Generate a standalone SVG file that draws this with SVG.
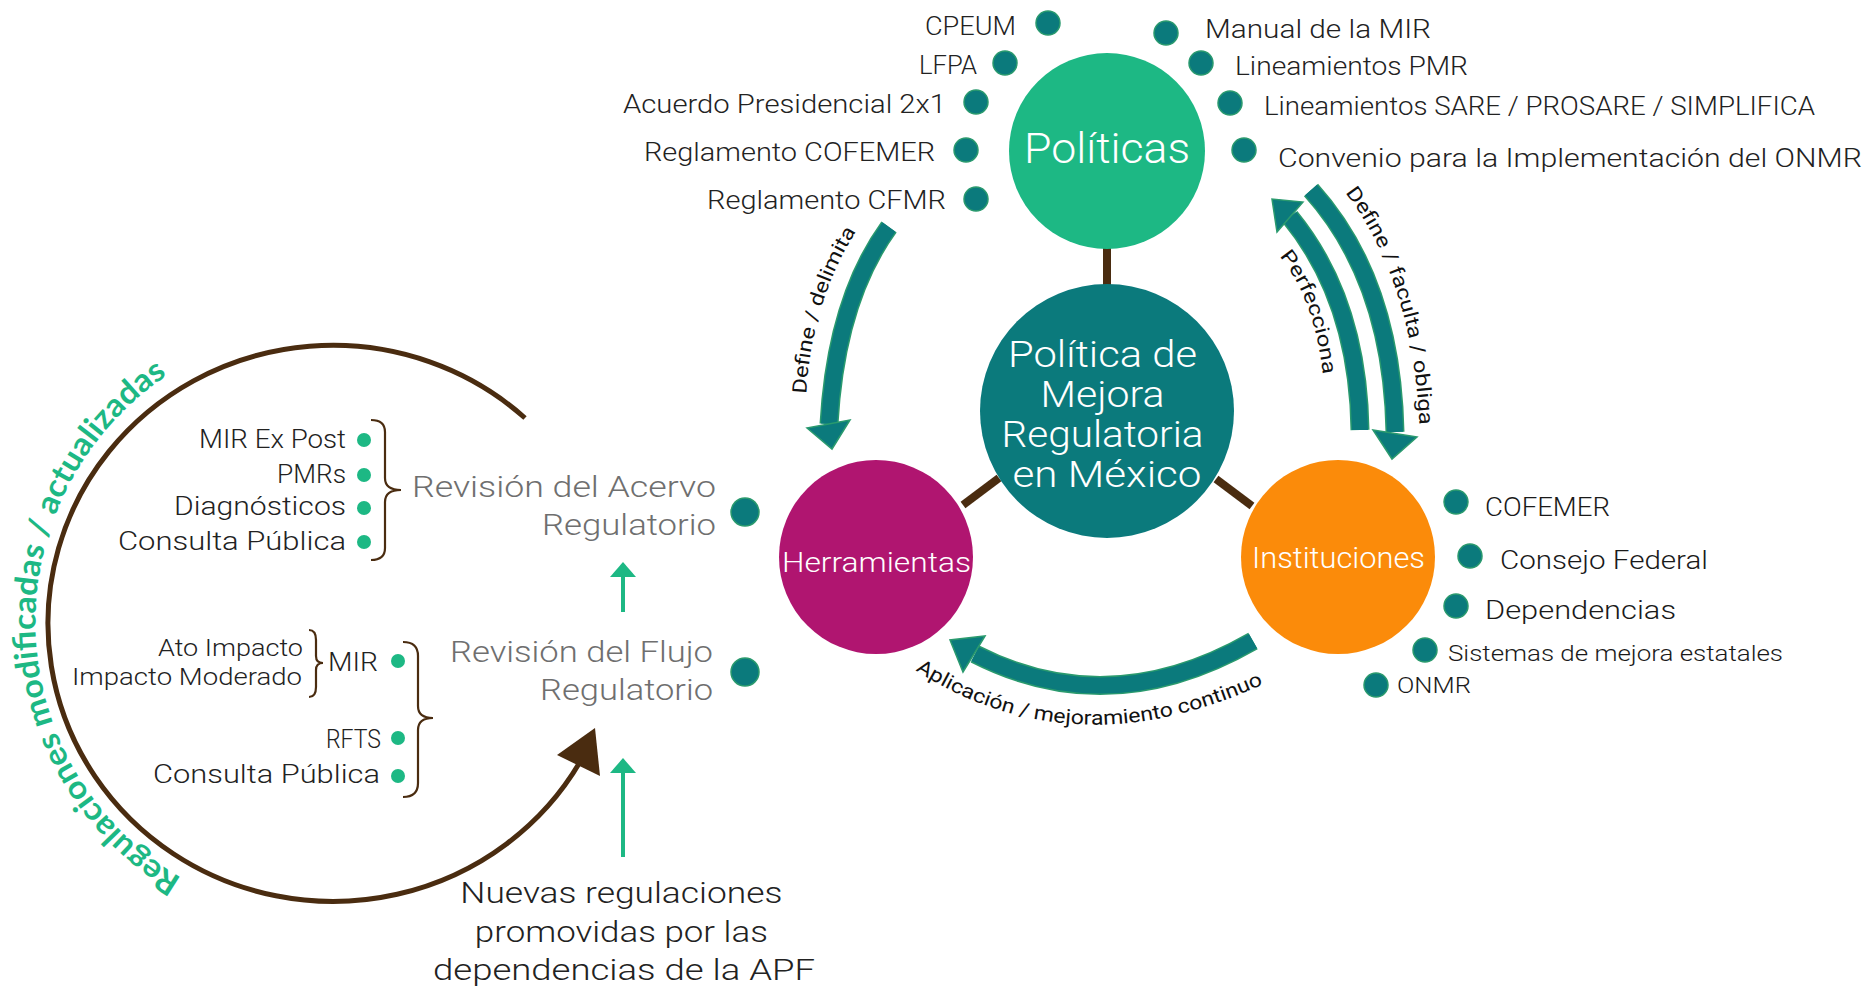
<svg xmlns="http://www.w3.org/2000/svg" width="1864" height="987" viewBox="0 0 1864 987">
<style>
.t{font-family:"Roboto","Liberation Sans",sans-serif;font-weight:300;fill:#1a1a1a;}
.c{font-family:"Roboto","Liberation Sans",sans-serif;font-weight:300;fill:#222;}
.g{font-family:"Roboto","Liberation Sans",sans-serif;font-weight:300;fill:#6f6f6f;}
.w{font-family:"Roboto","Liberation Sans",sans-serif;fill:#fff;font-weight:300;}
.lab{font-family:"Roboto","Liberation Sans",sans-serif;fill:#111;font-size:20px;font-weight:400;}
.dot{fill:#0b7a7c;stroke:#2a9a6e;stroke-width:1.5;}
.gdot{fill:#1db884;}
.brn{fill:none;stroke:#4a2c10;}
.sh{fill:none;stroke:#2a9a6e;stroke-width:19;}
.sf{fill:none;stroke:#0b7a7c;stroke-width:16;}
.ah{fill:#0b7a7c;stroke:#2a9a6e;stroke-width:1.5;}
.ga{stroke:#1db884;stroke-width:4;fill:none;}
</style>
<defs>
<path id="pDD" d="M 806 400 Q 810 300 862 222"/>
<path id="pPer" d="M 1274 250 Q 1316 295 1324 385"/>
<path id="pDFO" d="M 1330 174 Q 1416 270 1420 440"/>
<path id="pApl" d="M 912 668 Q 1075 775 1272 680"/>
<path id="pReg" d="M 194 885 A 297 297 0 0 1 207 353"/>
</defs>

<g id="connectors">
<line class="brn" x1="1107" y1="248" x2="1107" y2="286" stroke-width="8"/>
<line class="brn" x1="963" y1="505" x2="999" y2="478" stroke-width="8"/>
<line class="brn" x1="1216" y1="479" x2="1252" y2="506" stroke-width="8"/>
<!-- Define / delimita -->
<path class="sh" d="M 889 227 Q 836 300 829 424"/>
<path class="sf" d="M 889 227 Q 836 300 829 424"/>
<polygon class="ah" points="807,428 850,420 832,449"/>
<text class="lab"><textPath href="#pDD" startOffset="6" textLength="172" lengthAdjust="spacingAndGlyphs">Define / delimita</textPath></text>
<!-- Define / faculta / obliga -->
<path class="sh" d="M 1311 190 Q 1392 280 1395 432"/>
<path class="sf" d="M 1311 190 Q 1392 280 1395 432"/>
<polygon class="ah" points="1373,430 1417,437 1392,459"/>
<text class="lab"><textPath href="#pDFO" startOffset="24" textLength="248" lengthAdjust="spacingAndGlyphs">Define / faculta / obliga</textPath></text>
<!-- Perfecciona -->
<path class="sh" d="M 1360 430 Q 1358 300 1290 217"/>
<path class="sf" d="M 1360 430 Q 1358 300 1290 217"/>
<polygon class="ah" points="1303,202 1277,232 1272,199"/>
<text class="lab"><textPath href="#pPer" startOffset="8" textLength="128" lengthAdjust="spacingAndGlyphs">Perfecciona</textPath></text>
<!-- Aplicacion -->
<path class="sh" d="M 1253 641 Q 1110 723 975 654"/>
<path class="sf" d="M 1253 641 Q 1110 723 975 654"/>
<polygon class="ah" points="985,636 963,672 950,640"/>
<text class="lab"><textPath href="#pApl" startOffset="4" textLength="365" lengthAdjust="spacingAndGlyphs">Aplicación / mejoramiento continuo</textPath></text>
<!-- big loop -->
<path class="brn" stroke-width="5" d="M 525 418 A 285 278 0 1 0 580 762"/>
<polygon fill="#4a2c10" points="595,728 557,755 600,776"/>
<text font-family="Lato,'Open Sans','Liberation Sans',sans-serif" font-weight="bold" font-size="32" fill="#1db884"><textPath href="#pReg" startOffset="14" textLength="600" lengthAdjust="spacingAndGlyphs">Regulaciones modificadas / actualizadas</textPath></text>
<!-- green arrows -->
<line class="ga" x1="623" y1="612" x2="623" y2="574"/>
<polygon fill="#1db884" points="623,562 610,577 636,577"/>
<line class="ga" x1="623" y1="857" x2="623" y2="770"/>
<polygon fill="#1db884" points="623,758 610,773 636,773"/>
<!-- braces -->
<path class="brn" stroke-width="2.2" d="M 371 420 Q 385 420 385 432 L 385 478 Q 385 490 401 490 Q 385 490 385 502 L 385 548 Q 385 560 371 560"/>
<path class="brn" stroke-width="2.2" d="M 309 630 Q 316 630 316 640 L 316 656 Q 316 663 323 663 Q 316 663 316 670 L 316 687 Q 316 697 309 697"/>
<path class="brn" stroke-width="2.2" d="M 403 642 Q 418 642 418 656 L 418 706 Q 418 718 433 718 Q 418 718 418 730 L 418 783 Q 418 797 403 797"/>
</g>

<g id="politicas">
<circle cx="1107" cy="151" r="98" fill="#1db884"/>
<text class="w" x="1024" y="163" font-size="42" textLength="166" lengthAdjust="spacingAndGlyphs">Políticas</text>
</g>
<g id="centro">
<circle cx="1107" cy="411" r="127" fill="#0b7a7c"/>
<text class="w" font-size="37" text-anchor="middle">
<tspan x="1107" y="367" textLength="189" lengthAdjust="spacingAndGlyphs">Política de</tspan>
<tspan x="1107" y="407" textLength="124" lengthAdjust="spacingAndGlyphs">Mejora</tspan>
<tspan x="1107" y="447" textLength="202" lengthAdjust="spacingAndGlyphs">Regulatoria</tspan>
<tspan x="1107" y="487" textLength="189" lengthAdjust="spacingAndGlyphs">en México</tspan>
</text>
</g>
<g id="herramientas">
<circle cx="876" cy="557" r="97" fill="#b01570"/>
<text class="w" x="782" y="572" font-size="28" textLength="189" lengthAdjust="spacingAndGlyphs">Herramientas</text>
</g>
<g id="instituciones">
<circle cx="1338" cy="557" r="97" fill="#fb8b0a"/>
<text class="w" x="1252" y="568" font-size="30" textLength="173" lengthAdjust="spacingAndGlyphs">Instituciones</text>
</g>

<g id="politicas-items">
<circle class="dot" cx="1048" cy="23" r="12"/>
<text class="c" x="925" y="35" font-size="26" textLength="91" lengthAdjust="spacingAndGlyphs">CPEUM</text>
<circle class="dot" cx="1005" cy="63" r="12"/>
<text class="c" x="919" y="74" font-size="26" textLength="58" lengthAdjust="spacingAndGlyphs">LFPA</text>
<circle class="dot" cx="976" cy="102" r="12"/>
<text class="c" x="623" y="113" font-size="26" textLength="323" lengthAdjust="spacingAndGlyphs">Acuerdo Presidencial 2x1</text>
<circle class="dot" cx="966" cy="150" r="12"/>
<text class="c" x="644" y="161" font-size="26" textLength="291" lengthAdjust="spacingAndGlyphs">Reglamento COFEMER</text>
<circle class="dot" cx="976" cy="199" r="12"/>
<text class="c" x="707" y="209" font-size="26" textLength="239" lengthAdjust="spacingAndGlyphs">Reglamento CFMR</text>
<circle class="dot" cx="1166" cy="33" r="12"/>
<text class="c" x="1205" y="38" font-size="26" textLength="226" lengthAdjust="spacingAndGlyphs">Manual de la MIR</text>
<circle class="dot" cx="1201" cy="63" r="12"/>
<text class="c" x="1235" y="75" font-size="26" textLength="233" lengthAdjust="spacingAndGlyphs">Lineamientos PMR</text>
<circle class="dot" cx="1230" cy="103" r="12"/>
<text class="c" x="1264" y="115" font-size="26" textLength="551" lengthAdjust="spacingAndGlyphs">Lineamientos SARE / PROSARE / SIMPLIFICA</text>
<circle class="dot" cx="1244" cy="150" r="12"/>
<text class="c" x="1278" y="167" font-size="26" textLength="584" lengthAdjust="spacingAndGlyphs">Convenio para la Implementación del ONMR</text>
</g>

<g id="instituciones-items">
<circle class="dot" cx="1456" cy="502" r="12"/>
<text class="t" x="1485" y="516" font-size="25" textLength="125" lengthAdjust="spacingAndGlyphs">COFEMER</text>
<circle class="dot" cx="1470" cy="556" r="12"/>
<text class="t" x="1500" y="569" font-size="25" textLength="208" lengthAdjust="spacingAndGlyphs">Consejo Federal</text>
<circle class="dot" cx="1456" cy="606" r="12"/>
<text class="t" x="1485" y="619" font-size="25" textLength="191" lengthAdjust="spacingAndGlyphs">Dependencias</text>
<circle class="dot" cx="1425" cy="650" r="12"/>
<text class="t" x="1448" y="661" font-size="22" textLength="335" lengthAdjust="spacingAndGlyphs">Sistemas de mejora estatales</text>
<circle class="dot" cx="1376" cy="685" r="12"/>
<text class="t" x="1397" y="693" font-size="22" textLength="74" lengthAdjust="spacingAndGlyphs">ONMR</text>
</g>

<g id="herramientas-acervo">
<text class="c" x="199" y="448" font-size="26" textLength="147" lengthAdjust="spacingAndGlyphs">MIR Ex Post</text>
<text class="c" x="277" y="483" font-size="26" textLength="69" lengthAdjust="spacingAndGlyphs">PMRs</text>
<text class="c" x="174" y="515" font-size="26" textLength="172" lengthAdjust="spacingAndGlyphs">Diagnósticos</text>
<text class="c" x="118" y="550" font-size="26" textLength="228" lengthAdjust="spacingAndGlyphs">Consulta Pública</text>
<circle class="gdot" cx="364" cy="440" r="7"/>
<circle class="gdot" cx="364" cy="475" r="7"/>
<circle class="gdot" cx="364" cy="508" r="7"/>
<circle class="gdot" cx="364" cy="542" r="7"/>
<text class="g" x="412" y="497" font-size="30" textLength="304" lengthAdjust="spacingAndGlyphs">Revisión del Acervo</text>
<text class="g" x="542" y="535" font-size="30" textLength="174" lengthAdjust="spacingAndGlyphs">Regulatorio</text>
<circle class="dot" cx="745" cy="512" r="14"/>
</g>

<g id="herramientas-flujo">
<text class="c" x="158" y="656" font-size="23" textLength="145" lengthAdjust="spacingAndGlyphs">Ato Impacto</text>
<text class="c" x="72" y="685" font-size="23" textLength="230" lengthAdjust="spacingAndGlyphs">Impacto Moderado</text>
<text class="c" x="328" y="671" font-size="26" textLength="50" lengthAdjust="spacingAndGlyphs">MIR</text>
<circle class="gdot" cx="398" cy="661" r="7"/>
<text class="c" x="326" y="748" font-size="26" textLength="55" lengthAdjust="spacingAndGlyphs">RFTS</text>
<circle class="gdot" cx="398" cy="738" r="7"/>
<text class="c" x="153" y="783" font-size="26" textLength="227" lengthAdjust="spacingAndGlyphs">Consulta Pública</text>
<circle class="gdot" cx="398" cy="776" r="7"/>
<text class="g" x="450" y="662" font-size="30" textLength="263" lengthAdjust="spacingAndGlyphs">Revisión del Flujo</text>
<text class="g" x="540" y="700" font-size="30" textLength="173" lengthAdjust="spacingAndGlyphs">Regulatorio</text>
<circle class="dot" cx="745" cy="672" r="14"/>
</g>

<g id="nuevas">
<text class="c" font-size="30" text-anchor="middle">
<tspan x="625" y="903" textLength="322" lengthAdjust="spacingAndGlyphs">Nuevas regulaciones</tspan>
<tspan x="625" y="942" textLength="293" lengthAdjust="spacingAndGlyphs">promovidas por las</tspan>
<tspan x="624" y="980" textLength="382" lengthAdjust="spacingAndGlyphs">dependencias de la APF</tspan>
</text>
</g>
</svg>
